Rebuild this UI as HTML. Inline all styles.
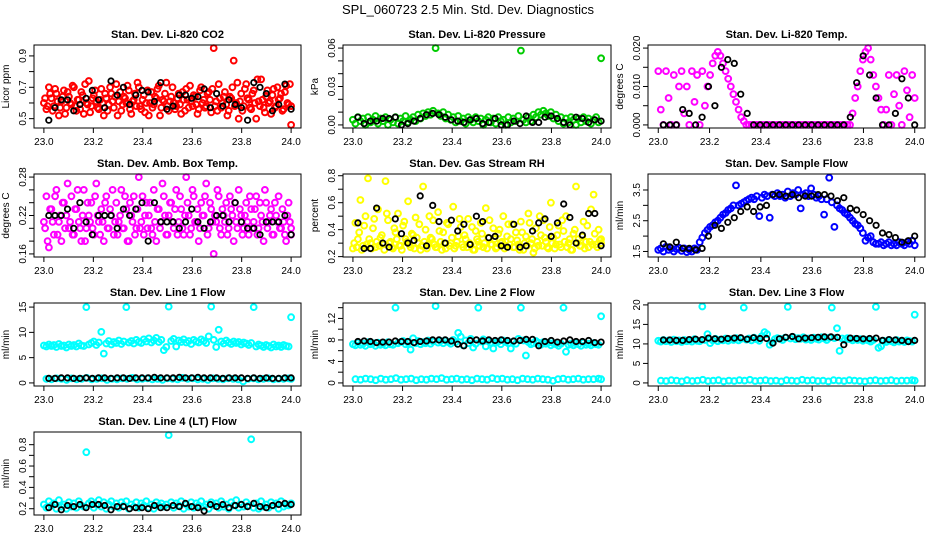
<!DOCTYPE html>
<html><head><meta charset="utf-8"><style>
html,body{margin:0;padding:0;background:#fff;}
svg{display:block;font-family:"Liberation Sans",sans-serif;}
</style></head><body>
<svg id="chart" width="936" height="540" viewBox="0 0 936 540">
<rect width="936" height="540" fill="#fff"/>
<text x="468" y="14" text-anchor="middle" font-size="13">SPL_060723  2.5 Min. Std. Dev. Diagnostics</text>
</svg>
<script>
// ---- data ----
const xTickVals = [23.0,23.2,23.4,23.6,23.8,24.0];
const xTickLabels = ["23.0","23.2","23.4","23.6","23.8","24.0"];

const co2Color = [0.60,0.56,0.70,0.63,0.58,0.66,0.52,0.61,0.68,0.57,0.64,0.59,0.70,0.55,0.62,0.67,0.53,0.60,0.74,0.58,0.65,0.61,0.56,0.69,0.52,0.63,0.59,0.66,0.57,0.72,0.61,0.55,0.64,0.60,0.68,0.53,0.62,0.58,0.70,0.56,0.65,0.60,0.52,0.67,0.59,0.63,0.71,0.57,0.61,0.73,0.55,0.64,0.60,0.58,0.66,0.53,0.62,0.69,0.57,0.61,0.65,0.59,0.56,0.70,0.62,0.58,0.67,0.54,0.95,0.61,0.72,0.57,0.64,0.59,0.55,0.63,0.87,0.60,0.50,0.66,0.58,0.72,0.62,0.56,0.68,0.50,0.61,0.75,0.57,0.64,0.60,0.53,0.69,0.58,0.62,0.66,0.56,0.71,0.59,0.46];
const co2Color2 = [0.63,0.58,0.66,0.55,0.69,0.61,0.57,0.64,0.53,0.67,0.60,0.71,0.58,0.62,0.56,0.65,0.72,0.59,0.54,0.63,0.68,0.57,0.62,0.60,0.66,0.55,0.70,0.61,0.64,0.52,0.67,0.59,0.63,0.71,0.56,0.61,0.66,0.73,0.58,0.62,0.54,0.68,0.60,0.57,0.64,0.69,0.52,0.62,0.66,0.58,0.61,0.70,0.56,0.63,0.59,0.67,0.55,0.62,0.71,0.58,0.64,0.53,0.68,0.60,0.57,0.66,0.62,0.69,0.58,0.55,0.63,0.60,0.67,0.52,0.64,0.70,0.58,0.73,0.61,0.55,0.69,0.63,0.57,0.66,0.60,0.75,0.58,0.62,0.54,0.68,0.61,0.65,0.57,0.70,0.63,0.55,0.67,0.60,0.72,0.58];
const co2Black = [0.49,0.57,0.62,0.62,0.55,0.59,0.63,0.68,0.62,0.57,0.74,0.65,0.70,0.59,0.65,0.68,0.67,0.61,0.73,0.56,0.58,0.65,0.65,0.63,0.64,0.69,0.57,0.66,0.58,0.62,0.59,0.57,0.49,0.73,0.70,0.66,0.55,0.59,0.72,0.56];

const presColor = [0.004,0.001,0.006,0.003,0.005,0.000,0.006,0.002,0.004,0.007,0.001,0.005,0.003,0.006,0.000,0.004,0.002,0.006,0.001,0.005,0.003,0.007,0.002,0.004,0.006,0.003,0.008,0.005,0.009,0.007,0.010,0.008,0.011,0.060,0.009,0.007,0.010,0.005,0.008,0.004,0.006,0.002,0.007,0.003,0.005,0.001,0.006,0.004,0.002,0.006,0.003,0.005,0.000,0.004,0.006,0.002,0.005,0.001,0.006,0.003,0.004,0.000,0.006,0.002,0.005,0.003,0.007,0.058,0.004,0.002,0.006,0.003,0.008,0.006,0.010,0.008,0.011,0.009,0.007,0.010,0.005,0.008,0.003,0.006,0.001,0.005,0.002,0.006,0.004,0.000,0.005,0.002,0.006,0.003,0.005,0.001,0.004,0.006,0.002,0.052];
const presBlack = [0.006,0.001,0.003,0.003,0.005,0.005,0.006,0.000,0.001,0.003,0.005,0.008,0.009,0.008,0.006,0.004,0.003,0.002,0.004,0.005,0.001,0.002,0.005,0.000,0.000,0.003,0.001,0.007,0.002,0.002,0.006,0.007,0.005,0.002,0.000,0.006,0.005,0.002,0.004,0.003];

const tempColor = [0.014,0.004,0.000,0.014,0.007,0.000,0.013,0.000,0.010,0.014,0.003,0.010,0.000,0.014,0.006,0.013,0.000,0.014,
0.005,0.010,0.013,0.016,0.018,0.019,0.018,0.016,0.014,0.012,0.010,0.008,0.006,0.004,0.002,0.001,
0,0,0,0,0,0,0,0,0,0,0,0,0,0,0,0,0,0,0,0,0,0,0,0,0,0,0,0,0,0,0,0,0,0,0,0,0,0,0,0,0,
0.003,0.007,0.010,0.014,0.017,0.019,0.020,0.017,0.013,0.010,0.007,0.004,
0.000,0.004,0.013,0.000,0.008,0.013,0.005,0.000,0.014,0.009,0.002,0.013,0.007];
const tempBlack = [0.000,0.000,0.000,0.004,0.003,0.000,0.002,0.010,0.005,0.015,0.017,0.016,0.008,0.003,0.000,0.000,0.000,0.000,0.000,0.000,0.000,0.000,0.000,0.000,0.000,0.000,0.000,0.000,0.000,0.002,0.011,0.018,0.013,0.007,0.000,0.000,0.003,0.012,0.007,0.000];

const ambColor = [0.21,0.25,0.17,0.23,0.19,0.26,0.21,0.18,0.24,0.22,0.20,0.25,0.19,0.23,0.21,0.18,0.26,0.20,0.22,0.24,0.19,0.27,0.21,0.23,0.18,0.25,0.20,0.22,0.19,0.24,0.21,0.26,0.20,0.23,0.18,0.22,0.25,0.20,0.28,0.21,0.19,0.24,0.22,0.20,0.26,0.18,0.23,0.21,0.25,0.19,0.22,0.24,0.20,0.26,0.21,0.23,0.19,0.28,0.22,0.20,0.25,0.21,0.18,0.24,0.22,0.27,0.20,0.23,0.16,0.21,0.25,0.19,0.22,0.24,0.20,0.23,0.18,0.21,0.26,0.22,0.20,0.24,0.19,0.23,0.21,0.25,0.20,0.22,0.18,0.24,0.21,0.23,0.19,0.22,0.25,0.20,0.21,0.18,0.24,0.19];
const ambColor2 = [0.20,0.18,0.23,0.21,0.25,0.19,0.22,0.24,0.20,0.27,0.21,0.19,0.23,0.26,0.20,0.22,0.18,0.24,0.21,0.20,0.25,0.22,0.19,0.21,0.24,0.20,0.23,0.26,0.21,0.19,0.22,0.20,0.25,0.18,0.24,0.21,0.19,0.23,0.20,0.25,0.22,0.20,0.24,0.19,0.21,0.23,0.20,0.27,0.22,0.19,0.24,0.21,0.23,0.19,0.25,0.20,0.22,0.24,0.19,0.26,0.21,0.23,0.20,0.22,0.25,0.19,0.24,0.21,0.22,0.26,0.20,0.23,0.21,0.19,0.25,0.22,0.24,0.20,0.23,0.19,0.22,0.21,0.25,0.20,0.23,0.19,0.24,0.21,0.26,0.20,0.22,0.19,0.24,0.21,0.20,0.23,0.19,0.22,0.21,0.20];
const ambBlack = [0.22,0.22,0.22,0.23,0.20,0.24,0.21,0.19,0.22,0.22,0.22,0.20,0.23,0.22,0.23,0.24,0.18,0.24,0.21,0.21,0.21,0.20,0.21,0.23,0.21,0.20,0.21,0.22,0.22,0.21,0.24,0.21,0.20,0.20,0.19,0.21,0.21,0.21,0.22,0.19];

const rhColor = [0.26,0.45,0.33,0.62,0.28,0.50,0.78,0.30,0.41,0.27,0.55,0.34,0.29,0.76,0.47,0.31,0.26,0.38,0.52,0.28,0.43,0.33,0.61,0.27,0.36,0.49,0.30,0.25,0.72,0.40,0.29,0.34,0.47,0.27,0.53,0.31,0.38,0.26,0.44,0.30,0.57,0.28,0.35,0.42,0.27,0.33,0.48,0.29,0.25,0.39,0.31,0.45,0.27,0.56,0.34,0.29,0.41,0.26,0.37,0.30,0.50,0.28,0.44,0.33,0.27,0.38,0.29,0.46,0.25,0.35,0.52,0.30,0.23,0.41,0.28,0.36,0.47,0.31,0.26,0.60,0.34,0.29,0.43,0.27,0.39,0.50,0.30,0.25,0.37,0.72,0.33,0.28,0.46,0.31,0.27,0.55,0.66,0.29,0.40,0.33];
const rhColor2 = [0.30,0.27,0.38,0.25,0.43,0.29,0.33,0.26,0.48,0.31,0.28,0.36,0.25,0.52,0.30,0.27,0.41,0.33,0.28,0.25,0.46,0.31,0.29,0.37,0.26,0.34,0.44,0.28,0.31,0.26,0.50,0.33,0.29,0.27,0.39,0.25,0.30,0.45,0.28,0.34,0.26,0.31,0.48,0.29,0.36,0.27,0.30,0.42,0.25,0.33,0.28,0.37,0.30,0.26,0.47,0.29,0.33,0.27,0.40,0.31,0.26,0.35,0.29,0.44,0.27,0.32,0.25,0.38,0.30,0.28,0.45,0.33,0.26,0.31,0.50,0.28,0.34,0.27,0.42,0.30,0.26,0.36,0.29,0.47,0.31,0.27,0.33,0.25,0.40,0.30,0.28,0.35,0.26,0.43,0.31,0.29,0.37,0.27,0.32,0.30];
const rhBlack = [0.45,0.26,0.26,0.56,0.30,0.27,0.48,0.37,0.30,0.32,0.65,0.28,0.58,0.46,0.30,0.47,0.39,0.44,0.29,0.50,0.46,0.34,0.35,0.28,0.27,0.44,0.27,0.28,0.39,0.45,0.48,0.35,0.45,0.59,0.49,0.30,0.36,0.52,0.52,0.28];

const flowColor = [1.55,1.6,1.5,1.65,1.55,1.6,1.5,1.58,1.62,1.52,1.6,1.48,1.55,1.5,1.6,1.55,
1.8,1.95,2.1,2.2,2.3,2.35,2.45,2.5,2.6,2.7,2.75,2.85,2.9,3.0,3.65,
3.0,3.05,3.1,3.15,3.2,3.25,3.2,3.3,2.65,3.25,3.35,3.3,2.6,3.35,3.3,
3.4,3.3,3.35,3.25,3.45,3.3,3.4,3.35,3.5,2.9,3.35,3.4,3.3,3.55,3.35,3.25,3.3,3.2,2.7,3.2,3.9,3.1,2.3,
3.0,2.9,2.85,2.75,2.7,2.6,2.5,2.4,2.35,2.25,2.1,1.85,1.95,2.0,1.8,1.75,
1.75,1.8,1.7,1.75,1.8,1.7,1.75,1.7,1.8,1.75,1.7,1.8,1.75,1.85,1.7];
const flowBlack = [1.75,1.65,1.8,1.6,1.6,1.55,1.6,2.0,2.35,2.25,2.45,2.6,2.8,2.95,2.8,2.95,3.0,3.35,3.35,3.3,3.35,3.25,3.3,3.3,3.35,3.35,3.3,3.15,3.25,2.9,2.85,2.7,2.5,2.35,2.1,2.05,1.95,1.8,1.85,2.0];

const line1High = [7.4,7.2,7.6,7.3,7.5,7.1,7.7,7.3,7.4,7.0,7.6,7.3,7.5,7.2,7.8,7.4,7.3,15.0,7.6,7.9,8.2,7.5,8.0,10.1,5.8,7.8,8.3,7.6,8.1,7.9,8.4,7.7,8.2,15.0,8.0,8.3,7.8,8.5,8.1,7.9,8.6,8.2,8.8,8.0,8.4,8.9,8.1,8.5,6.5,7.1,15.1,8.3,8.7,7.2,8.4,8.1,8.6,8.0,8.3,7.7,8.5,8.2,8.0,8.6,8.3,7.9,9.2,15.1,8.5,7.1,10.5,8.2,7.8,8.4,8.0,7.7,8.2,7.9,8.1,7.6,8.0,7.8,7.5,7.9,15.0,7.2,7.6,7.4,7.1,7.5,7.3,7.0,7.6,7.2,7.4,7.1,7.5,7.3,7.2,13.0];
const line1Low = [0.8,0.7,0.9,0.8,0.6,0.9,0.7,0.8,1.0,0.7,0.8,0.9,0.6,0.8,0.7,0.9,0.8,1.0,0.7,0.8,0.9,0.7,0.8,0.6,0.9,0.8,0.7,1.0,0.8,0.9,0.7,0.8,0.6,0.9,0.8,0.7,0.9,0.8,0.7,0.3,0.8,0.9,0.7,0.8,0.9,0.7,0.8,0.8,0.9,0.8];
const line1Black = [0.9,0.9,1.0,1.0,0.9,0.9,1.0,0.9,1.0,1.0,0.9,1.0,1.0,0.9,1.0,1.0,1.0,1.1,1.0,1.0,1.0,1.1,1.0,1.0,1.1,1.0,1.0,1.0,0.9,1.0,1.0,1.0,0.9,1.0,0.9,1.0,0.9,0.9,1.0,1.0];

const line2High = [7.2,7.0,7.5,7.1,7.3,6.9,7.6,7.2,7.4,6.9,7.5,7.1,7.3,7.0,7.6,7.2,7.1,14.0,7.4,7.6,7.8,7.2,7.5,6.2,8.3,7.4,7.8,7.2,7.6,7.4,7.9,7.3,7.7,14.3,7.5,7.8,7.4,7.9,7.6,7.3,8.0,7.6,9.3,8.6,7.0,7.9,7.4,8.2,6.6,7.3,14.0,7.7,8.1,6.8,7.8,7.5,6.4,7.5,7.7,7.2,7.9,7.6,7.4,6.4,7.7,7.3,8.2,14.0,7.9,5.1,7.6,7.2,7.4,7.8,7.5,7.1,7.6,7.3,7.5,7.0,7.4,7.2,6.9,7.3,14.0,5.8,7.1,7.3,7.0,7.4,7.2,6.9,7.5,7.1,7.3,7.0,7.4,7.2,7.1,12.4];
const line2Low = [0.7,0.6,0.8,0.7,0.5,0.8,0.6,0.7,0.9,0.6,0.7,0.8,0.5,0.7,0.6,0.8,0.7,0.9,0.6,0.7,0.8,0.6,0.7,0.5,0.8,0.7,0.6,0.9,0.7,0.8,0.6,0.7,0.5,0.8,0.7,0.6,0.8,0.7,0.6,0.4,0.7,0.8,0.6,0.7,0.8,0.6,0.7,0.7,0.8,0.7];
const line2Black = [7.7,7.8,7.7,7.5,7.6,7.6,7.8,7.7,7.7,7.5,7.7,7.8,8.0,8.0,8.0,7.8,7.2,6.9,7.9,8.0,7.8,8.0,7.9,8.0,7.9,7.8,7.9,8.1,8.1,6.9,7.7,7.9,7.6,7.8,8.0,7.7,7.7,7.9,7.5,7.6];

const line3High = [10.8,10.6,11.0,10.7,10.9,10.5,11.1,10.7,10.9,10.5,11.0,10.7,10.9,10.6,11.2,10.8,10.7,19.6,11.0,12.5,10.2,10.9,11.3,10.7,11.1,10.9,11.4,10.8,11.2,11.0,11.5,10.9,11.3,19.3,11.1,11.4,10.9,11.6,11.2,10.8,12.0,13.0,12.5,9.8,10.3,11.2,11.5,11.3,11.0,11.6,19.5,11.4,11.8,11.2,11.5,11.3,11.7,11.1,11.4,11.0,11.6,11.3,11.1,11.7,11.4,11.0,11.6,19.3,11.5,14.0,8.2,11.4,11.0,11.5,11.2,10.9,11.3,11.0,11.2,10.8,11.1,10.9,10.6,11.0,19.5,9.0,9.4,10.8,10.5,10.9,10.7,10.4,11.0,10.6,10.8,10.5,10.9,10.7,10.6,17.5];
const line3Low = [0.6,0.5,0.7,0.6,0.4,0.7,0.5,0.6,0.8,0.5,0.6,0.7,0.4,0.6,0.5,0.7,0.6,0.8,0.5,0.6,0.7,0.5,0.6,0.4,0.7,0.6,0.5,0.8,0.6,0.7,0.5,0.6,0.4,0.7,0.6,0.5,0.7,0.6,0.5,0.4,0.6,0.7,0.5,0.6,0.7,0.5,0.6,0.6,0.7,0.6];
const line3Black = [11.0,11.0,10.9,10.9,11.1,11.2,11.1,11.5,11.3,11.2,11.4,11.5,11.6,11.2,11.6,11.4,11.4,10.2,11.3,11.7,11.9,11.3,11.5,11.6,11.7,11.8,11.8,11.7,9.8,11.5,11.4,11.3,11.4,11.5,10.9,11.1,11.0,10.9,10.6,10.9];

const line4Color = [0.24,0.21,0.27,0.23,0.25,0.20,0.28,0.22,0.24,0.20,0.26,0.22,0.25,0.21,0.27,0.23,0.22,0.73,0.25,0.27,0.21,0.24,0.28,0.22,0.26,0.20,0.24,0.27,0.22,0.25,0.21,0.26,0.23,0.27,0.20,0.24,0.22,0.26,0.21,0.25,0.23,0.27,0.21,0.24,0.20,0.26,0.23,0.25,0.22,0.24,0.89,0.26,0.21,0.25,0.23,0.27,0.20,0.24,0.22,0.26,0.21,0.25,0.23,0.27,0.22,0.24,0.20,0.26,0.23,0.25,0.21,0.27,0.22,0.24,0.20,0.26,0.23,0.28,0.21,0.24,0.22,0.26,0.23,0.85,0.21,0.25,0.20,0.27,0.22,0.24,0.21,0.26,0.23,0.25,0.20,0.27,0.22,0.24,0.23,0.25];
const line4Black = [0.21,0.24,0.19,0.23,0.22,0.24,0.21,0.24,0.24,0.23,0.19,0.22,0.22,0.20,0.21,0.21,0.20,0.23,0.21,0.21,0.23,0.22,0.25,0.22,0.21,0.18,0.24,0.22,0.24,0.21,0.23,0.24,0.22,0.25,0.22,0.21,0.23,0.24,0.25,0.24];

// panel definitions (axis configuration)
const panels = [
 {name:"co2", title:"Stan. Dev. Li-820 CO2", ylab:"Licor ppm", col:0,row:0, ylim:[0.46,0.95], ticks:[0.5,0.6,0.7,0.8,0.9], labs:["0.5","","0.7","","0.9"], color:"#ff0000", series:[co2Color,co2Color2], black:co2Black},
 {name:"pressure", title:"Stan. Dev. Li-820 Pressure", ylab:"kPa", col:1,row:0, ylim:[0,0.060], ticks:[0,0.01,0.02,0.03,0.04,0.05,0.06], labs:["0.00","","","0.03","","","0.06"], color:"#00cc00", series:[presColor], black:presBlack},
 {name:"temp", title:"Stan. Dev. Li-820 Temp.", ylab:"degrees C", col:2,row:0, ylim:[0,0.020], ticks:[0,0.005,0.01,0.015,0.02], labs:["0.000","","0.010","","0.020"], color:"#ff00ff", series:[tempColor], black:tempBlack},
 {name:"amb-box-temp", title:"Stan. Dev. Amb. Box Temp.", ylab:"degrees C", col:0,row:1, ylim:[0.16,0.28], ticks:[0.16,0.18,0.20,0.22,0.24,0.26,0.28], labs:["0.16","","","0.22","","","0.28"], color:"#ff00ff", series:[ambColor,ambColor2], black:ambBlack},
 {name:"gas-rh", title:"Stan. Dev. Gas Stream RH", ylab:"percent", col:1,row:1, ylim:[0.22,0.79], ticks:[0.2,0.3,0.4,0.5,0.6,0.7,0.8], labs:["0.2","","0.4","","0.6","","0.8"], color:"#ffff00", series:[rhColor,rhColor2], black:rhBlack},
 {name:"sample-flow", title:"Stan. Dev. Sample Flow", ylab:"ml/min", col:2,row:1, ylim:[1.42,3.92], ticks:[1.5,2.0,2.5,3.0,3.5], labs:["1.5","","2.5","","3.5"], color:"#0000ff", series:[flowColor], black:flowBlack},
 {name:"line1-flow", title:"Stan. Dev. Line 1 Flow", ylab:"ml/min", col:0,row:2, ylim:[0,15.2], ticks:[0,5,10,15], labs:["0","5","10","15"], color:"#00ffff", series:[line1High,line1Low], black:line1Black},
 {name:"line2-flow", title:"Stan. Dev. Line 2 Flow", ylab:"ml/min", col:1,row:2, ylim:[0,14.3], ticks:[0,2,4,6,8,10,12,14], labs:["0","","4","","8","","12",""], color:"#00ffff", series:[line2High,line2Low], black:line2Black},
 {name:"line3-flow", title:"Stan. Dev. Line 3 Flow", ylab:"ml/min", col:2,row:2, ylim:[0,19.7], ticks:[0,5,10,15,20], labs:["0","5","10","15","20"], color:"#00ffff", series:[line3High,line3Low], black:line3Black},
 {name:"line4-flow", title:"Stan. Dev. Line 4 (LT) Flow", ylab:"ml/min", col:0,row:3, ylim:[0.17,0.89], ticks:[0.2,0.3,0.4,0.5,0.6,0.7,0.8], labs:["0.2","","0.4","","0.6","","0.8"], color:"#00ffff", series:[line4Color], black:line4Black}
];
const colL = [34,343,648], colR = [301,611,925];
const rowT = [45,174,303,432], boxH = 83;

const NS = "http://www.w3.org/2000/svg";
const svg = document.getElementById("chart");
function mk(tag, attrs, parent){
  const e = document.createElementNS(NS, tag);
  for (const k in attrs) e.setAttribute(k, attrs[k]);
  parent.appendChild(e);
  return e;
}

panels.forEach(p => {
  const L = colL[p.col], R = colR[p.col], T = rowT[p.row], B = T + boxH;
  const x0 = 23 - 0.04, x1 = 24 + 0.04;
  const span = p.ylim[1] - p.ylim[0];
  const y0 = p.ylim[0] - 0.04*span, y1 = p.ylim[1] + 0.04*span;
  const xs = v => L + (v - x0) / (x1 - x0) * (R - L);
  const ys = v => B - (v - y0) / (y1 - y0) * (B - T);

  const g = mk("g", {}, svg);
  
  

  const title = mk("text", {x:(L+R)/2, y:T-7, "text-anchor":"middle", "font-size":"11", "font-weight":"bold"}, g);
  title.textContent = p.title;
  
  

  const yl = mk("text", {x:0, y:0, "text-anchor":"middle", "font-size":"10", transform:`translate(${L-25},${(T+B)/2}) rotate(-90)`}, g);
  yl.textContent = p.ylab;
  
  

  const pts = mk("g", {fill:"none"}, g);
  
  
  p.series.forEach((arr, si) => {
    arr.forEach((v, i) => {
      const t = 23 + (i + si * 0.5) / (arr.length - 1);
      const c = mk("circle", {cx:xs(Math.min(t, 24)).toFixed(1), cy:ys(v).toFixed(1), r:2.9, stroke:p.color, "stroke-width":2}, pts);
      
      
    });
  });
  p.black.forEach((v, i) => {
    const t = 23.02 + 0.98 * i / (p.black.length - 1);
    const c = mk("circle", {cx:xs(t).toFixed(1), cy:ys(v).toFixed(1), r:2.7, stroke:"#000", "stroke-width":1.8}, pts);
    
    
  });

  const box = mk("rect", {x:L, y:T, width:R-L, height:B-T, fill:"none", stroke:"#000", "stroke-width":1}, g);
  
  

  const xa = mk("g", {}, g);
  
  
  xTickVals.forEach((v, i) => {
    const x = xs(v);
    mk("line", {x1:x, y1:B, x2:x, y2:B+5, stroke:"#000"}, xa);
    const tl = mk("text", {x:x, y:B+17, "text-anchor":"middle", "font-size":"10"}, xa);
    tl.textContent = xTickLabels[i];
    
    
  });

  const ya = mk("g", {}, g);
  
  
  p.ticks.forEach((v, i) => {
    const y = ys(v);
    mk("line", {x1:L-5, y1:y, x2:L, y2:y, stroke:"#000"}, ya);
    if (p.labs[i]) {
      const tl = mk("text", {x:0, y:0, "text-anchor":"middle", "font-size":"10", transform:`translate(${L-8},${y}) rotate(-90)`}, ya);
      tl.textContent = p.labs[i];
      
      
    }
  });
});
</script>
</body></html>
